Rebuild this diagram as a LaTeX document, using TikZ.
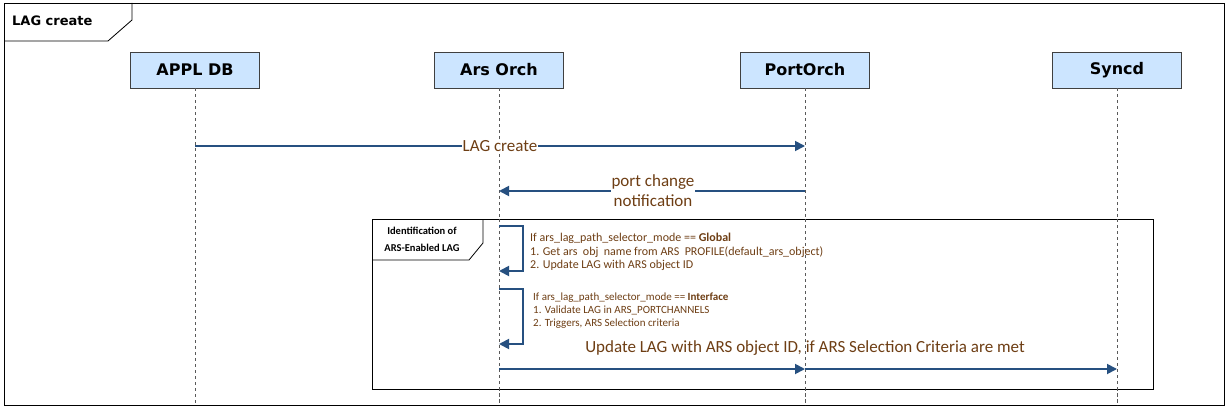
\documentclass[tikz,border=0pt]{standalone}
\usepackage{fontspec}
\setmainfont{Carlito}
\newfontfamily\headfont{DejaVu Sans}
\usetikzlibrary{arrows.meta}
\definecolor{boxfill}{RGB}{204,229,255}
\definecolor{arrowc}{RGB}{38,80,128}
\definecolor{txtc}{RGB}{110,62,20}
\tikzset{
  lifebox/.style={draw=black!75, fill=boxfill, minimum width=129pt, minimum height=36pt, inner sep=0pt, font=\headfont\bfseries\fontsize{16}{18}\selectfont},
  lifeline/.style={draw=black!65, dash pattern=on 3pt off 3pt, line width=0.9pt},
  msg/.style={draw=arrowc, line width=1.8pt, -{Triangle[length=10pt,width=10pt]}},
  msgtext/.style={text=txtc, font=\fontsize{17}{20}\selectfont, align=center, inner sep=1pt},
  frameline/.style={draw=black, line width=0.8pt},
}
\begin{document}
\begin{tikzpicture}[x=1pt,y=-1pt]
\useasboundingbox (0,0) rectangle (1228,409);
% outer frame
\draw[frameline] (4,3) rectangle (1224,405);
\draw[frameline] (4,41) -- (108,41) -- (132,20) -- (132,3);
\node[anchor=west, font=\headfont\bfseries\fontsize{13}{15}\selectfont, inner sep=0pt] (ftitle) at (12,21) {LAG create};
% lifeline heads
\node[lifebox] (appl) at (195,70) {APPL DB};
\node[lifebox] (ars) at (499,70) {Ars Orch};
\node[lifebox] (port) at (805,70) {PortOrch};
\node[lifebox] (syncd) at (1117,70) {Syncd};
% lifeline ends
\coordinate (applE) at (195,405);
\coordinate (arsE) at (499,405);
\coordinate (portE) at (805,405);
\coordinate (syncdE) at (1117,405);
\draw[lifeline] (appl.south) -- (applE);
\draw[lifeline] (ars.south) -- (arsE);
\draw[lifeline] (port.south) -- (portE);
\draw[lifeline] (syncd.south) -- (syncdE);
% messages
\coordinate (m1s) at (195,146);
\coordinate (m1e) at (805,146);
\draw[msg] (m1s) -- (m1e);
\node[msgtext, fill=white, inner sep=0.5pt] (m1t) at (500,146) {LAG create};
\coordinate (m2s) at (805,191);
\coordinate (m2e) at (499,191);
\draw[msg] (m2s) -- (m2e);
\node[msgtext, fill=white] (m2t) at (653,191) {port change\\notification};
% inner frame
\draw[frameline, fill=white] (372,219) rectangle (1153,389);
\draw[frameline] (372,260) -- (469,260) -- (483,243) -- (483,219);
\node[font=\bfseries\fontsize{10.5}{17}\selectfont, align=center, inner sep=0pt] (ftitle2) at (422,239) {Identification of\\ARS-Enabled LAG};
% redraw lifelines over inner frame fill
\draw[lifeline] (499,219) -- (arsE);
\draw[lifeline] (805,219) -- (portE);
\draw[lifeline] (1117,219) -- (syncdE);
% self messages
\coordinate (s1a) at (499,226);
\coordinate (s1b) at (523,226);
\coordinate (s1c) at (523,271);
\coordinate (s1d) at (499,271);
\draw[msg] (s1a) -- (s1b) -- (s1c) -- (s1d);
\node[anchor=north west, text=txtc, font=\fontsize{12}{13.5}\selectfont, align=left, inner sep=0pt] (s1t) at (530,233)
  {If ars\_lag\_path\_selector\_mode == \textbf{Global}\\
   1. Get ars\ \ obj\ \ name from ARS\ \ PROFILE(default\_ars\_object)\\
   2. Update LAG with ARS object ID};
\coordinate (s2a) at (499,289);
\coordinate (s2b) at (523,289);
\coordinate (s2c) at (523,344);
\coordinate (s2d) at (499,344);
\draw[msg] (s2a) -- (s2b) -- (s2c) -- (s2d);
\node[anchor=north west, text=txtc, font=\fontsize{11}{13}\selectfont, align=left, inner sep=0pt] (s2t) at (533,293)
  {If ars\_lag\_path\_selector\_mode == \textbf{Interface}\\
   1. Validate LAG in ARS\_PORTCHANNELS\\
   2. Triggers, ARS Selection criteria};
% final messages
\coordinate (m3s) at (499,369);
\coordinate (m3m) at (805,369);
\coordinate (m3e) at (1117,369);
\draw[msg] (m3s) -- (m3m);
\draw[msg] (m3m) -- (m3e);
\node[msgtext] (m3t) at (805,348) {Update LAG with ARS object ID, if ARS Selection Criteria are met};
\end{tikzpicture}
\end{document}
